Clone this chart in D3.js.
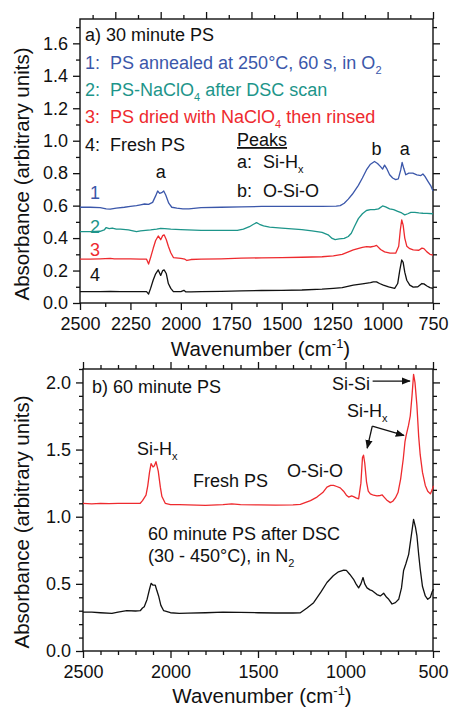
<!DOCTYPE html>
<html>
<head>
<meta charset="utf-8">
<script src="https://cdn.jsdelivr.net/npm/d3@7"></script>
<style>
body{margin:0;background:#fff;}
svg{display:block;font-family:Arial,"Liberation Sans",sans-serif;}
</style>
</head>
<body>
<div id="chart"></div>
<script>
//data, panel a (wavenumber, absorbance)
const psAnnealed = [[2500,0.59],[2450,0.59],[2400,0.588],[2370,0.58],[2350,0.578],[2320,0.585],[2280,0.59],[2250,0.595],[2220,0.6],[2200,0.605],[2180,0.61],[2160,0.608],[2140,0.62],[2125,0.66],[2115,0.69],[2105,0.675],[2095,0.68],[2085,0.69],[2075,0.665],[2060,0.615],[2045,0.59],[2020,0.585],[1990,0.58],[1960,0.58],[1900,0.588],[1800,0.59],[1700,0.592],[1600,0.595],[1500,0.595],[1400,0.595],[1300,0.595],[1230,0.597],[1210,0.6],[1190,0.615],[1170,0.64],[1150,0.67],[1120,0.725],[1100,0.77],[1080,0.82],[1060,0.855],[1040,0.872],[1025,0.86],[1010,0.84],[1000,0.825],[990,0.85],[980,0.83],[965,0.79],[950,0.77],[935,0.76],[922,0.765],[910,0.82],[903,0.866],[895,0.83],[885,0.79],[870,0.8],[850,0.8],[830,0.79],[810,0.785],[800,0.795],[790,0.78],[775,0.75],[760,0.72],[750,0.69]];
const psNaClO4Dsc = [[2500,0.44],[2450,0.44],[2400,0.442],[2380,0.45],[2370,0.465],[2355,0.458],[2340,0.462],[2320,0.455],[2300,0.455],[2260,0.45],[2220,0.44],[2200,0.445],[2150,0.45],[2120,0.455],[2100,0.46],[2080,0.458],[2050,0.455],[2000,0.452],[1900,0.448],[1800,0.447],[1720,0.447],[1690,0.455],[1660,0.47],[1640,0.485],[1625,0.495],[1610,0.485],[1590,0.475],[1560,0.468],[1500,0.462],[1450,0.457],[1400,0.452],[1350,0.445],[1300,0.435],[1270,0.42],[1250,0.398],[1235,0.39],[1215,0.395],[1190,0.398],[1170,0.41],[1155,0.43],[1140,0.47],[1120,0.52],[1100,0.55],[1080,0.57],[1060,0.575],[1040,0.575],[1020,0.58],[1000,0.598],[985,0.592],[965,0.58],[945,0.575],[925,0.565],[905,0.555],[890,0.543],[875,0.55],[860,0.558],[840,0.558],[820,0.555],[800,0.553],[780,0.552],[750,0.55]];
const psDriedRinsed = [[2500,0.27],[2450,0.27],[2400,0.272],[2350,0.275],[2330,0.272],[2300,0.272],[2250,0.272],[2200,0.27],[2170,0.27],[2160,0.24],[2150,0.28],[2137,0.337],[2125,0.385],[2112,0.413],[2100,0.39],[2090,0.415],[2083,0.42],[2072,0.39],[2062,0.35],[2050,0.31],[2037,0.28],[2000,0.275],[1980,0.27],[1970,0.262],[1950,0.268],[1900,0.27],[1800,0.272],[1700,0.276],[1600,0.278],[1500,0.28],[1400,0.282],[1300,0.285],[1244,0.29],[1200,0.3],[1145,0.327],[1100,0.343],[1079,0.348],[1060,0.345],[1040,0.35],[1030,0.355],[1010,0.33],[990,0.315],[963,0.307],[935,0.307],[920,0.35],[912,0.45],[905,0.512],[898,0.48],[890,0.4],[880,0.35],[865,0.335],[848,0.327],[820,0.325],[805,0.338],[795,0.335],[780,0.315],[765,0.3],[750,0.295]];
const psFreshA = [[2500,0.07],[2400,0.07],[2350,0.072],[2300,0.07],[2250,0.07],[2200,0.07],[2170,0.07],[2160,0.055],[2150,0.09],[2137,0.142],[2125,0.18],[2112,0.204],[2100,0.17],[2090,0.2],[2083,0.204],[2072,0.18],[2062,0.12],[2050,0.09],[2037,0.07],[2000,0.07],[1985,0.078],[1975,0.068],[1950,0.068],[1900,0.07],[1800,0.072],[1700,0.075],[1600,0.077],[1500,0.078],[1400,0.08],[1300,0.085],[1244,0.09],[1200,0.095],[1145,0.11],[1100,0.118],[1060,0.125],[1046,0.13],[1030,0.13],[1015,0.12],[996,0.11],[970,0.1],[940,0.09],[925,0.12],[915,0.2],[905,0.265],[898,0.25],[890,0.19],[880,0.14],[865,0.11],[848,0.098],[825,0.1],[805,0.12],[795,0.118],[780,0.105],[765,0.095],[750,0.09]];

//data, panel b
const psFreshB = [[2500,1.1],[2450,1.095],[2400,1.1],[2350,1.098],[2300,1.1],[2250,1.1],[2200,1.1],[2173,1.1],[2160,1.12],[2150,1.14],[2140,1.16],[2130,1.23],[2120,1.33],[2111,1.395],[2100,1.37],[2092,1.38],[2083,1.41],[2070,1.34],[2058,1.22],[2049,1.15],[2030,1.1],[2000,1.09],[1950,1.09],[1900,1.088],[1800,1.085],[1700,1.09],[1650,1.095],[1600,1.09],[1500,1.088],[1400,1.087],[1300,1.088],[1258,1.092],[1200,1.12],[1163,1.146],[1130,1.18],[1106,1.22],[1085,1.233],[1068,1.233],[1050,1.225],[1030,1.215],[1011,1.19],[995,1.16],[982,1.146],[965,1.155],[954,1.15],[940,1.14],[925,1.133],[912,1.25],[903,1.44],[897,1.458],[890,1.4],[880,1.26],[870,1.19],[858,1.17],[840,1.16],[820,1.155],[801,1.158],[790,1.162],[782,1.15],[765,1.125],[744,1.105],[730,1.115],[715,1.14],[700,1.18],[685,1.28],[670,1.43],[660,1.56],[653,1.607],[640,1.68],[630,1.75],[620,1.9],[611,2.06],[603,2.0],[592,1.83],[582,1.6],[573,1.46],[560,1.33],[544,1.233],[530,1.19],[515,1.17],[505,1.2],[497,1.23]];
const psAfterDsc = [[2500,0.29],[2450,0.29],[2400,0.285],[2335,0.28],[2300,0.29],[2250,0.3],[2200,0.298],[2173,0.3],[2160,0.32],[2150,0.33],[2134,0.384],[2120,0.46],[2111,0.504],[2100,0.49],[2087,0.49],[2078,0.45],[2068,0.41],[2055,0.34],[2039,0.3],[2000,0.285],[1950,0.28],[1900,0.282],[1800,0.285],[1700,0.29],[1600,0.288],[1500,0.285],[1400,0.283],[1300,0.283],[1258,0.285],[1220,0.32],[1182,0.36],[1140,0.44],[1106,0.51],[1070,0.56],[1040,0.59],[1010,0.603],[995,0.6],[975,0.57],[954,0.534],[940,0.5],[925,0.47],[912,0.5],[900,0.547],[890,0.5],[877,0.47],[860,0.455],[849,0.45],[820,0.42],[801,0.41],[782,0.43],[765,0.4],[753,0.385],[734,0.35],[715,0.36],[696,0.385],[680,0.47],[668,0.6],[655,0.65],[639,0.72],[625,0.85],[611,0.98],[600,0.92],[592,0.86],[582,0.72],[573,0.61],[560,0.48],[544,0.41],[530,0.385],[515,0.4],[505,0.44],[497,0.46]];

//ticks
const xTicksA = [2500,2250,2000,1750,1500,1250,1000,750];
const xMinorA = [2375,2125,1875,1625,1375,1125,875];
const xTopTicksA = [2325,2100,1875,1650,1425,1200,975,750];
const xTopMinorA = [2437.5,2212.5,1987.5,1762.5,1537.5,1312.5,1087.5,862.5];
const yTicksA = [0,0.2,0.4,0.6,0.8,1.0,1.2,1.4,1.6];
const yMinorA = [0.1,0.3,0.5,0.7,0.9,1.1,1.3,1.5,1.7];
const xTicksB = [2500,2000,1500,1000,500];
const xMinorB = [2400,2300,2200,2100,1900,1800,1700,1600,1400,1300,1200,1100,900,800,700,600];
const yTicksB = [0,0.5,1.0,1.5,2.0];
const yMinorB = [0.1,0.2,0.3,0.4,0.6,0.7,0.8,0.9,1.1,1.2,1.3,1.4,1.6,1.7,1.8,1.9,2.1];

const CONSTANTS = {
    WIDTH:451,
    HEIGHT:707,
    BLUE:'#3b57aa',
    TEAL:'#1d958a',
    RED:'#ee2a2e',
    BLACK:'#111',
    TICK_FONT:18,
    TEXT_FONT:18,
    TITLE_FONT:20.5,
    MAJOR:7,   //major tick length
    MINOR:4    //minor tick length
};

const svg = d3.select('#chart').append('svg')
    .attr('width',CONSTANTS.WIDTH)
    .attr('height',CONSTANTS.HEIGHT);

//text with sub / superscript parts
function richText(g,x,y,parts,color,size){
    let t = g.append('text').attr('x',x).attr('y',y)
        .attr('fill',color || '#111')
        .style('font-size',(size || CONSTANTS.TEXT_FONT) + 'px');
    let shift = 0;
    parts.forEach(p=>{
        let s = typeof p === 'string' ? {t:p} : p;
        let want = s.sub ? 5 : (s.sup ? -8 : 0);
        let ts = t.append('tspan').text(s.t).attr('dy',want - shift);
        if(s.sub || s.sup){ ts.style('font-size',Math.round((size || CONSTANTS.TEXT_FONT)*0.62) + 'px'); }
        shift = want;
    });
    return t;
}

function buildPanel(p){
    let x = d3.scaleLinear().domain(p.xDomain).range([p.left,p.right]);
    let y = d3.scaleLinear().domain(p.yDomain).range([p.bottom,p.top]);
    let g = svg.append('g');

    //axes
    let addAxis = (axis,tr)=>{
        let a = g.append('g').attr('transform',tr).call(axis);
        a.select('.domain').remove();
        a.selectAll('line').attr('stroke','#111').attr('stroke-width',1.3);
        a.selectAll('text').style('font-size',CONSTANTS.TICK_FONT + 'px').attr('fill','#111');
        return a;
    };
    let bottom = 'translate(0,' + p.bottom + ')';
    let top = 'translate(0,' + p.top + ')';
    let left = 'translate(' + p.left + ',0)';
    let right = 'translate(' + p.right + ',0)';

    addAxis(d3.axisBottom(x).tickValues(p.xTicks).tickFormat(d3.format('d')).tickSize(CONSTANTS.MAJOR).tickPadding(7),bottom);
    addAxis(d3.axisBottom(x).tickValues(p.xMinor).tickFormat('').tickSize(CONSTANTS.MINOR),bottom);
    addAxis(d3.axisTop(x).tickValues(p.xTop).tickFormat('').tickSize(CONSTANTS.MAJOR),top);
    addAxis(d3.axisTop(x).tickValues(p.xTopMinor).tickFormat('').tickSize(CONSTANTS.MINOR),top);
    addAxis(d3.axisLeft(y).tickValues(p.yTicks).tickFormat(d3.format('.1f')).tickSize(CONSTANTS.MAJOR).tickPadding(5),left);
    addAxis(d3.axisLeft(y).tickValues(p.yMinor).tickFormat('').tickSize(CONSTANTS.MINOR),left);
    addAxis(d3.axisRight(y).tickValues(p.yTicks).tickFormat('').tickSize(CONSTANTS.MAJOR),right);
    addAxis(d3.axisRight(y).tickValues(p.yMinor).tickFormat('').tickSize(CONSTANTS.MINOR),right);

    //frame
    g.append('rect')
        .attr('x',p.left).attr('y',p.top)
        .attr('width',p.right - p.left).attr('height',p.bottom - p.top)
        .attr('fill','none').attr('stroke','#111').attr('stroke-width',1.4);

    //curves
    let line = d3.line().x(d=>x(d[0])).y(d=>y(d[1]));
    p.series.forEach(s=>{
        g.append('path')
            .datum(s.data)
            .attr('d',line)
            .attr('fill','none')
            .attr('stroke',s.color)
            .attr('stroke-width',1.3)
            .attr('stroke-linejoin','round');
    });

    //axis titles
    richText(g,(p.left + p.right)/2 + 4,p.xTitleY,['Wavenumber (cm',{t:'-1',sup:true},{t:')'}],'#111',CONSTANTS.TITLE_FONT)
        .attr('text-anchor','middle');
    g.append('text')
        .attr('transform','translate(29,' + p.yTitleY + ') rotate(-90)')
        .attr('text-anchor','middle')
        .style('font-size',CONSTANTS.TITLE_FONT + 'px')
        .attr('fill','#111')
        .text('Absorbance (arbitrary units)');

    return {g:g,x:x,y:y};
}

//panel a
let a = buildPanel({
    left:80,right:433,top:19,bottom:303,
    xDomain:[2500,750],yDomain:[0,1.75],
    xTicks:xTicksA,xMinor:xMinorA,xTop:xTopTicksA,xTopMinor:xTopMinorA,
    yTicks:yTicksA,yMinor:yMinorA,
    xTitleY:356,yTitleY:174,
    series:[
        {data:psAnnealed,color:CONSTANTS.BLUE},
        {data:psNaClO4Dsc,color:CONSTANTS.TEAL},
        {data:psDriedRinsed,color:CONSTANTS.RED},
        {data:psFreshA,color:CONSTANTS.BLACK}
    ]
});

richText(a.g,85,41,['a) 30 minute PS']);
let legendA = [
    {n:'1:',parts:['PS annealed at 250\u00B0C, 60 s, in O',{t:'2',sub:true}],color:CONSTANTS.BLUE,y:69},
    {n:'2:',parts:['PS-NaClO',{t:'4',sub:true},{t:' after DSC scan'}],color:CONSTANTS.TEAL,y:96},
    {n:'3:',parts:['PS dried with NaClO',{t:'4',sub:true},{t:' then rinsed'}],color:CONSTANTS.RED,y:123},
    {n:'4:',parts:['Fresh PS'],color:CONSTANTS.BLACK,y:151}
];
legendA.forEach(d=>{
    richText(a.g,85,d.y,[d.n],d.color);
    richText(a.g,110,d.y,d.parts,d.color);
});
richText(a.g,237,146,['Peaks']).style('text-decoration','underline');
richText(a.g,237,168,['a:']);
richText(a.g,263,168,['Si-H',{t:'x',sub:true}]);
richText(a.g,237,197,['b:']);
richText(a.g,263,197,['O-Si-O']);

//peak letters and curve numbers
richText(a.g,a.x(2100),a.y(0.77),['a']).attr('text-anchor','middle');
richText(a.g,a.x(1030),a.y(0.91),['b']).attr('text-anchor','middle');
richText(a.g,a.x(890),a.y(0.91),['a']).attr('text-anchor','middle');
let curveNums = [
    {t:'1',v:0.64,color:CONSTANTS.BLUE},
    {t:'2',v:0.43,color:CONSTANTS.TEAL},
    {t:'3',v:0.29,color:CONSTANTS.RED},
    {t:'4',v:0.135,color:CONSTANTS.BLACK}
];
curveNums.forEach(d=>richText(a.g,a.x(2450),a.y(d.v),[d.t],d.color));

//panel b
let b = buildPanel({
    left:83,right:433,top:369,bottom:651,
    xDomain:[2500,500],yDomain:[0,2.1],
    xTicks:xTicksB,xMinor:xMinorB,xTop:xTicksB,xTopMinor:xMinorB,
    yTicks:yTicksB,yMinor:yMinorB,
    xTitleY:703,yTitleY:522,
    series:[
        {data:psFreshB,color:CONSTANTS.RED},
        {data:psAfterDsc,color:CONSTANTS.BLACK}
    ]
});

richText(b.g,92,393,['b) 60 minute PS']);
richText(b.g,137,455,['Si-H',{t:'x',sub:true}]);
richText(b.g,193,487,['Fresh PS']);
richText(b.g,287,477,['O-Si-O']);
richText(b.g,332,390,['Si-Si']);
richText(b.g,347,417,['Si-H',{t:'x',sub:true}]);
richText(b.g,148,540,['60 minute PS after DSC']);
richText(b.g,148,562,['(30 - 450\u00B0C), in N',{t:'2',sub:true}]);

//arrows
svg.append('defs').append('marker')
    .attr('id','head').attr('viewBox','0 0 10 10')
    .attr('refX',9).attr('refY',5)
    .attr('markerWidth',7).attr('markerHeight',7)
    .attr('orient','auto')
    .append('path').attr('d','M0,1L10,5L0,9Z').attr('fill','#111');

let arrow = (pts)=>{
    b.g.append('path')
        .attr('d',d3.line()(pts.map(d=>[b.x(d[0]),b.y(d[1])])))
        .attr('fill','none').attr('stroke','#111').attr('stroke-width',1.3)
        .attr('marker-end','url(#head)');
};
arrow([[845,2.01],[632,2.01]]);
arrow([[847,1.675],[876,1.51]]);
arrow([[847,1.675],[666,1.605]]);
</script>
</body>
</html>
